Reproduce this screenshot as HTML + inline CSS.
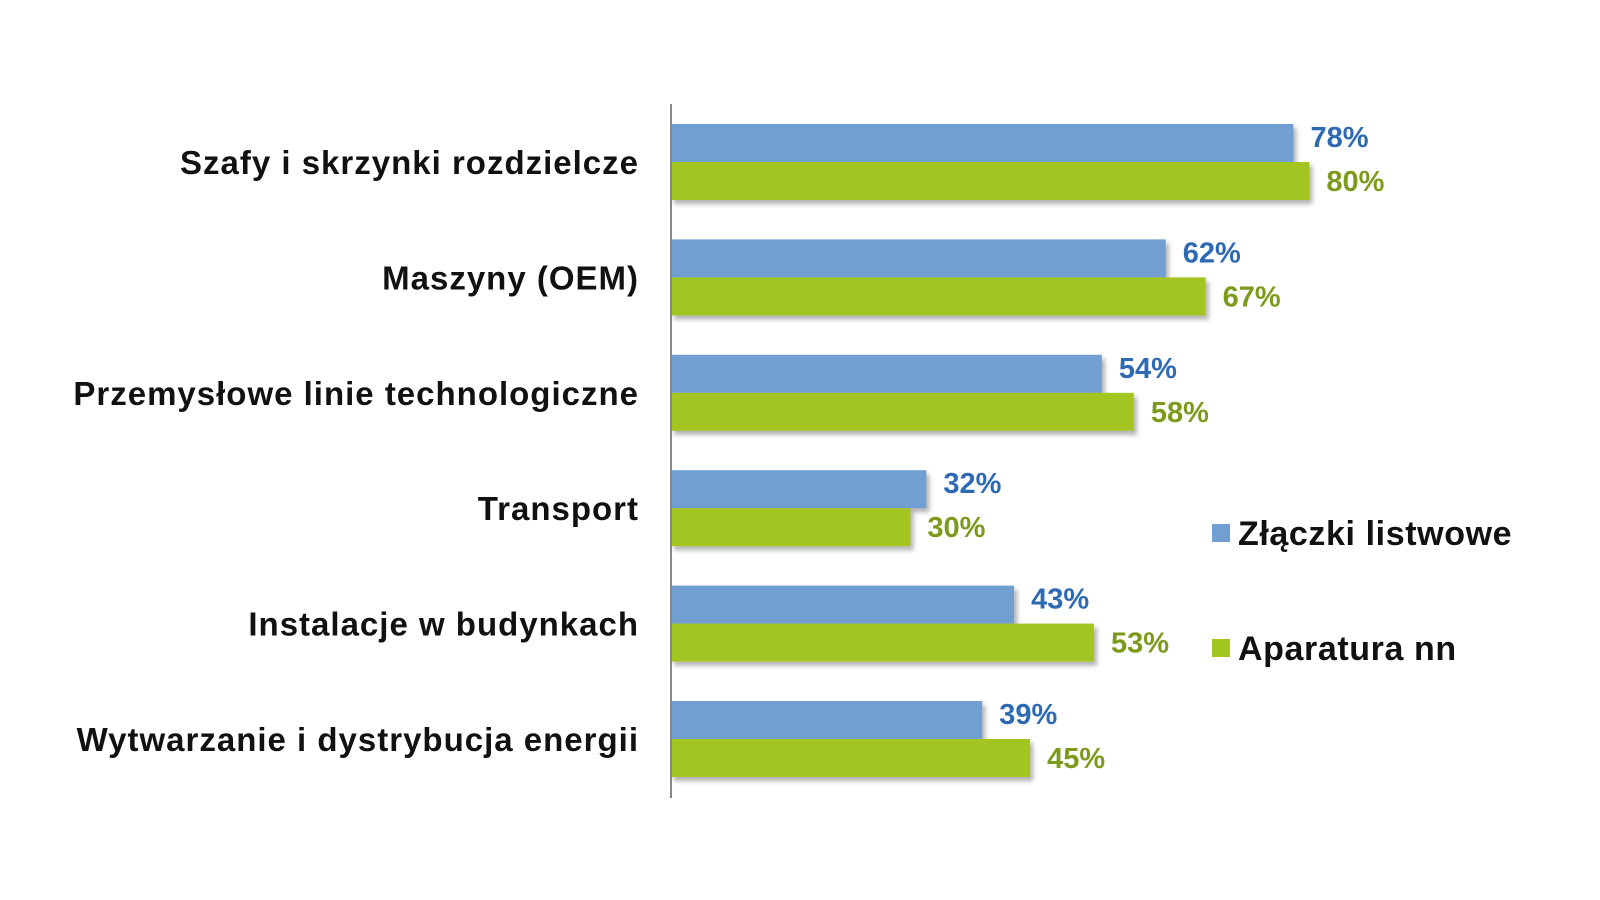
<!DOCTYPE html>
<html><head><meta charset="utf-8"><style>
html,body{margin:0;padding:0;background:#fff;}
svg{display:block;font-family:"Liberation Sans",sans-serif;font-weight:bold;}
</style></head><body>
<svg width="1600" height="900" viewBox="0 0 1600 900">
<defs><filter id="sh" x="-5%" y="-20%" width="115%" height="160%"><feDropShadow dx="3" dy="4" stdDeviation="2.5" flood-color="#000" flood-opacity="0.3"/></filter></defs>
<g id="bars"></g>
<line x1="671" y1="104" x2="671" y2="798" stroke="#888" stroke-width="2"/>
<g>
<rect x="1212" y="524" width="18" height="18" fill="#729fd2"/>
<text x="1238" y="545" font-size="34" letter-spacing="0.6" fill="#111">Złączki listwowe</text>
<rect x="1212" y="639" width="18" height="18" fill="#a3c520"/>
<text x="1238" y="660" font-size="34" letter-spacing="0.6" fill="#111">Aparatura nn</text>
</g>
</svg>
<script>
const categories=["Szafy i skrzynki rozdzielcze","Maszyny (OEM)","Przemysłowe linie technologiczne","Transport","Instalacje w budynkach","Wytwarzanie i dystrybucja energii"];
const zlaczki=[78,62,54,32,43,39];
const aparatura=[80,67,58,30,53,45];
const NS="http://www.w3.org/2000/svg";
const g=document.getElementById('bars');
const x0=671, pxPer=7.98, top0=124, step=115.4, bh=38;
const xs=v=>v*pxPer;
function mk(t,a){const e=document.createElementNS(NS,t);for(const k in a)e.setAttribute(k,a[k]);g.appendChild(e);return e;}
categories.forEach((c,i)=>{
  const y=top0+i*step;
  const t=mk('text',{x:639,y:y+bh+12,'font-size':33,'letter-spacing':1,fill:'#111','text-anchor':'end'});
  t.textContent=c;
  
  
  const b1=mk('rect',{x:x0,y:y,width:xs(zlaczki[i]),height:bh,fill:'#729fd2',filter:'url(#sh)'});
  
  
  const b2=mk('rect',{x:x0,y:y+bh,width:xs(aparatura[i]),height:bh,fill:'#a3c520',filter:'url(#sh)'});
  
  
  const l1=mk('text',{x:x0+xs(zlaczki[i])+17,y:y+23,'font-size':29,fill:'#2e69b4'});
  l1.textContent=zlaczki[i]+'%';
  
  
  const l2=mk('text',{x:x0+xs(aparatura[i])+17,y:y+bh+29,'font-size':29,fill:'#7c9b1d'});
  l2.textContent=aparatura[i]+'%';
  
  
});
</script>
</body></html>
